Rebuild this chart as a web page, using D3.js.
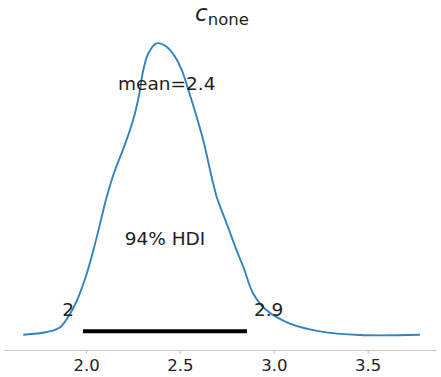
<!DOCTYPE html>
<html>
<head>
<meta charset="utf-8">
<script src="https://cdn.jsdelivr.net/npm/d3@7"></script>
<style>
  body { margin: 0; background: #fff; }
  svg { display: block; font-family: "DejaVu Sans", sans-serif; }
</style>
</head>
<body>
<svg></svg>
<script>
// posterior density of c_none
var xs = [1.666, 1.791, 1.862, 1.915, 1.959, 2.004, 2.039, 2.075, 2.110, 2.154,
          2.190, 2.234, 2.261, 2.284, 2.305, 2.332, 2.376, 2.429, 2.474, 2.510,
          2.545, 2.589, 2.625, 2.669, 2.696, 2.749, 2.802, 2.838, 2.891, 2.962,
          3.086, 3.246, 3.459, 3.778];
var density = [0.016, 0.032, 0.061, 0.141, 0.240, 0.380, 0.518, 0.678, 0.836, 0.995,
               1.097, 1.234, 1.335, 1.452, 1.591, 1.691, 1.750, 1.730, 1.670, 1.591,
               1.472, 1.313, 1.170, 0.955, 0.836, 0.678, 0.518, 0.419, 0.260, 0.161,
               0.082, 0.036, 0.014, 0.016];
var hdi = [1.984, 2.857];
var meanValue = 2.43;
var xTicks = [2.0, 2.5, 3.0, 3.5];

var width = 441;
var height = 377;

var xScale = d3.scaleLinear()
               .domain([1.563, 3.864])
               .range([4, 436]);

var yScale = d3.scaleLinear()
               .domain([-0.075, 1.84])
               .range([350, 28.2]);

var plotHeight = yScale.domain()[1];
var fmt = d3.format(".2");

var svg = d3.select("svg")
    .attr("width", width)
    .attr("height", height);

// title
var title = svg.append("text")
    .attr("x", 222)
    .attr("y", 21)
    .style("text-anchor", "middle")
    .style("fill", "#222");
title.append("tspan")
    .text("c")
    .style("font-style", "italic")
    .style("font-size", "23px");
title.append("tspan")
    .text("none")
    .attr("dy", 4)
    .style("font-size", "16.5px");

// x axis
var xAxis = d3.axisBottom(xScale)
              .tickValues(xTicks)
              .tickFormat(d3.format(".1f"))
              .tickSize(4)
              .tickPadding(5)
              .tickSizeOuter(0);

var gx = svg.append("g")
    .attr("transform", "translate(0," + yScale.range()[0] + ")")
    .call(xAxis);
gx.select(".domain").attr("stroke", "#c8c8c8").attr("stroke-width", 1.2);
gx.selectAll(".tick line").attr("stroke", "#c8c8c8").attr("stroke-width", 1.2);
gx.selectAll(".tick text")
    .style("font-family", "DejaVu Sans, sans-serif")
    .style("font-size", "16.5px")
    .style("fill", "#222");

// density curve
var line = d3.line()
    .x((d, i) => xScale(xs[i]))
    .y(d => yScale(d))
    .curve(d3.curveCatmullRom);

svg.append("path")
    .datum(density)
    .attr("d", line)
    .attr("fill", "none")
    .attr("stroke", "#3182c0")
    .attr("stroke-width", 1.9);

// hdi bar
svg.append("line")
    .attr("x1", xScale(hdi[0]))
    .attr("x2", xScale(hdi[1]))
    .attr("y1", yScale(plotHeight * 0.02))
    .attr("y2", yScale(plotHeight * 0.02))
    .attr("stroke", "black")
    .attr("stroke-width", 4);

svg.append("text")
    .text(fmt(hdi[0]))
    .attr("x", xScale(hdi[0]))
    .attr("dx", -9)
    .attr("y", yScale(plotHeight * 0.07))
    .style("text-anchor", "end")
    .style("font-size", "18.5px")
    .style("fill", "#222");

svg.append("text")
    .text(fmt(hdi[1]))
    .attr("x", xScale(hdi[1]))
    .attr("dx", 7)
    .attr("y", yScale(plotHeight * 0.07))
    .style("text-anchor", "start")
    .style("font-size", "18.5px")
    .style("fill", "#222");

svg.append("text")
    .text("94% HDI")
    .attr("x", xScale((hdi[0] + hdi[1]) / 2))
    .attr("y", yScale(plotHeight * 0.3))
    .style("text-anchor", "middle")
    .style("font-size", "18.5px")
    .style("fill", "#222");

svg.append("text")
    .text("mean=" + fmt(meanValue))
    .attr("x", xScale(meanValue))
    .attr("y", yScale(plotHeight * 0.8))
    .style("text-anchor", "middle")
    .style("font-size", "18.5px")
    .style("fill", "#222");
</script>
</body>
</html>
